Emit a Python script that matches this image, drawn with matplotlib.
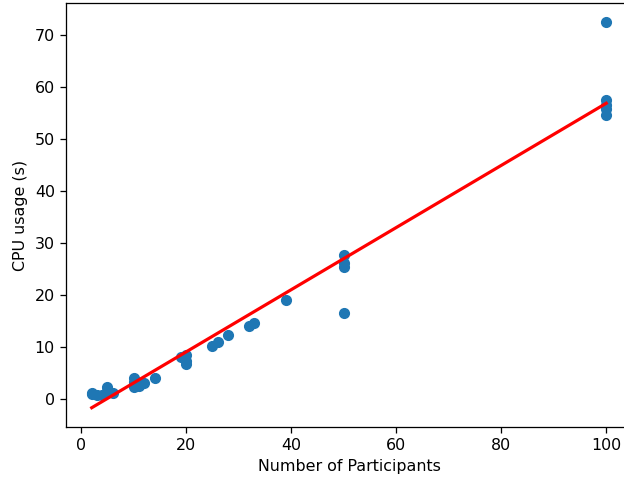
import numpy as np
import matplotlib.pyplot as plt

# participants vs CPU time
participants = [2, 2, 3, 4, 5, 5, 6, 10, 10, 10, 11, 12, 14, 19, 20, 20, 20,
                25, 26, 28, 32, 33, 39, 50, 50, 50, 50, 100, 100, 100, 100, 100]
cpu_usage = [1.2, 1.0, 0.8, 0.7, 2.3, 1.6, 1.2, 4.0, 3.2, 2.4, 2.6, 3.0, 4.0,
             8.0, 8.5, 7.4, 6.8, 10.1, 10.9, 12.3, 14.0, 14.7, 19.1,
             27.7, 26.2, 25.4, 16.6, 72.4, 57.4, 56.5, 55.7, 54.6]

# linear fit as drawn in the original
fit_slope = 0.597
fit_intercept = -2.86

x = np.array(participants)
y = np.array(cpu_usage)

W, H = 624, 480
DPI = 114.5
fig = plt.figure(figsize=(W / DPI, H / DPI), dpi=DPI)
# axes in pixels: left 66, right ~632 (cut off), top 3, bottom 427
ax = fig.add_axes([66 / W, (H - 427) / H, (632 - 66) / W, (427 - 3) / H])
ax.scatter(x, y)
ax.plot(x, fit_slope * x + fit_intercept, color='red', linewidth=2)
ax.set_xlabel('Number of Participants')
ax.set_ylabel('CPU usage (s)')
plt.savefig('out.png', dpi=DPI)
plt.close()
